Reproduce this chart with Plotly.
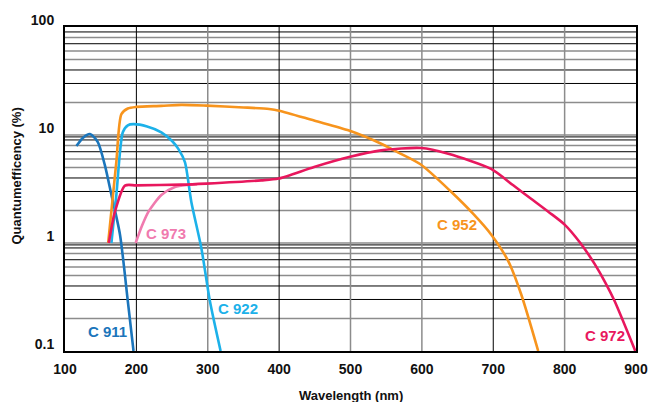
import math
import plotly.graph_objects as go

# ---------------- data ----------------
c911_wl = [116, 125, 135, 146, 156, 165, 177, 188, 196]
c911_qe = [7.9, 9.4, 10.2, 8.6, 5.2, 2.8, 1.2, 0.29, 0.1]

c922_wl = [165, 172, 181, 188, 196, 215, 235, 250, 259, 268, 277, 291, 303, 318]
c922_qe = [1.0, 2.8, 10.6, 12.3, 12.6, 12.0, 10.6, 8.8, 7.4, 5.6, 2.4, 0.9, 0.29, 0.1]

c952_wl = [160.5, 166, 172, 179, 188, 200, 235, 263, 298, 350, 386, 400, 449, 498,
           543, 561, 598, 641, 673, 697, 721, 739, 763]
c952_qe = [1.0, 2.3, 5.7, 15.6, 17.6, 18.2, 18.6, 19.0, 18.7, 18.0, 17.4, 16.8, 13.6, 11.0,
           8.3, 7.2, 5.36, 2.98, 1.83, 1.2, 0.68, 0.337, 0.1]

c972_wl = [161.4, 170, 184, 200, 263, 298, 375, 399, 449, 498, 543, 599, 637, 697,
           728, 753, 778, 800, 822, 842, 857, 870, 899]
c972_qe = [1.0, 1.95, 3.4, 3.42, 3.47, 3.55, 3.8, 3.95, 5.06, 6.25, 7.2, 7.57, 6.7, 4.85,
           3.42, 2.57, 1.93, 1.48, 1.0, 0.64, 0.43, 0.29, 0.1]

c973_wl = [199, 208, 217, 235, 254, 272, 285]
c973_qe = [1.0, 1.45, 1.95, 2.78, 3.3, 3.45, 3.5]

x_ticks = [100, 200, 300, 400, 500, 600, 700, 800, 900]
y_ticks = [0.1, 1, 10, 100]
y_tick_text = ["0.1", "1", "10", "100"]

labels = ["C 911", "C 922", "C 973", "C 952", "C 972"]
label_x = [159, 343, 241, 649, 856]
label_y = [0.152, 0.245, 1.22, 1.48, 0.139]

# ---------------- style ----------------
col911 = "#1b75bb"
col922 = "#1cb1e9"
col952 = "#f7941d"
col972 = "#e8175d"
col973 = "#f07aae"
label_cols = [col911, col922, col973, col952, col972]
FONT = "Liberation Sans"

fig = go.Figure()

series = [
    (c911_wl, c911_qe, col911),
    (c973_wl, c973_qe, col973),
    (c922_wl, c922_qe, col922),
    (c952_wl, c952_qe, col952),
    (c972_wl, c972_qe, col972),
]
for wl, qe, c in series:
    fig.add_trace(go.Scatter(x=wl, y=qe, mode="lines",
                             line=dict(color=c, width=2.6, shape="spline", smoothing=0.7),
                             hoverinfo="skip", showlegend=False))

# gridlines
shapes = []
gray = "#8c8c8c"
for d in [0.1, 1, 10]:
    for k in range(1, 10):
        v = k * d
        if v <= 0.1:
            continue
        if k == 1:
            shapes.append(dict(type="line", xref="paper", x0=0, x1=1, yref="y", y0=v, y1=v,
                               line=dict(color=gray, width=1.5), layer="below"))
            shapes.append(dict(type="line", xref="paper", x0=0, x1=1, yref="y", y0=v * 0.96, y1=v * 0.96,
                               line=dict(color="black", width=1), layer="below"))
        elif k in (2, 5, 6, 8):
            shapes.append(dict(type="line", xref="paper", x0=0, x1=1, yref="y", y0=v, y1=v,
                               line=dict(color=gray, width=1.5), layer="below"))
        else:
            shapes.append(dict(type="line", xref="paper", x0=0, x1=1, yref="y", y0=v, y1=v,
                               line=dict(color="black", width=1), layer="below"))
for xv in x_ticks[1:-1]:
    c = "black" if xv in (200, 400, 700) else gray
    w = 1 if c == "black" else 1.5
    shapes.append(dict(type="line", xref="x", x0=xv, x1=xv, yref="paper", y0=0, y1=1,
                       line=dict(color=c, width=w), layer="below"))

annotations = []
for t, x, y, c in zip(labels, label_x, label_y, label_cols):
    annotations.append(dict(x=x, y=math.log10(y), xref="x", yref="y", text=t,
                            showarrow=False, font=dict(family=FONT, size=15, color=c, weight="bold")))
annotations.append(dict(x=0.5, y=-0.138, xref="paper", yref="paper", text="Wavelength (nm)",
                        showarrow=False, yanchor="middle", xanchor="center",
                        font=dict(family=FONT, size=13, color="#111", weight="bold")))
annotations.append(dict(x=-0.085, y=0.54, xref="paper", yref="paper", text="Quantumefficency (%)",
                        showarrow=False, textangle=-90, xanchor="center", yanchor="middle",
                        font=dict(family=FONT, size=13, color="#111", weight="bold")))

fig.update_layout(
    width=660, height=402,
    margin=dict(l=65, r=14, t=24, b=51),
    paper_bgcolor="white", plot_bgcolor="white",
    shapes=shapes, annotations=annotations,
    xaxis=dict(range=[100, 900], tickvals=x_ticks, showgrid=False, zeroline=False,
               showline=True, linecolor="black", linewidth=2, mirror=True,
               ticks="", ticklabelstandoff=4,
               tickfont=dict(family=FONT, size=14, color="#111", weight="bold")),
    yaxis=dict(type="log", range=[-1, 2], tickvals=y_ticks, ticktext=y_tick_text,
               showgrid=False, zeroline=False,
               showline=True, linecolor="black", linewidth=2, mirror=True,
               ticks="", ticklabelstandoff=6, ticklabelshift=-7,
               tickfont=dict(family=FONT, size=14, color="#111", weight="bold")),
)

fig.write_html("out.html", config={"displayModeBar": False},
               post_script="document.body.style.margin='0';document.body.style.overflow='hidden';")
